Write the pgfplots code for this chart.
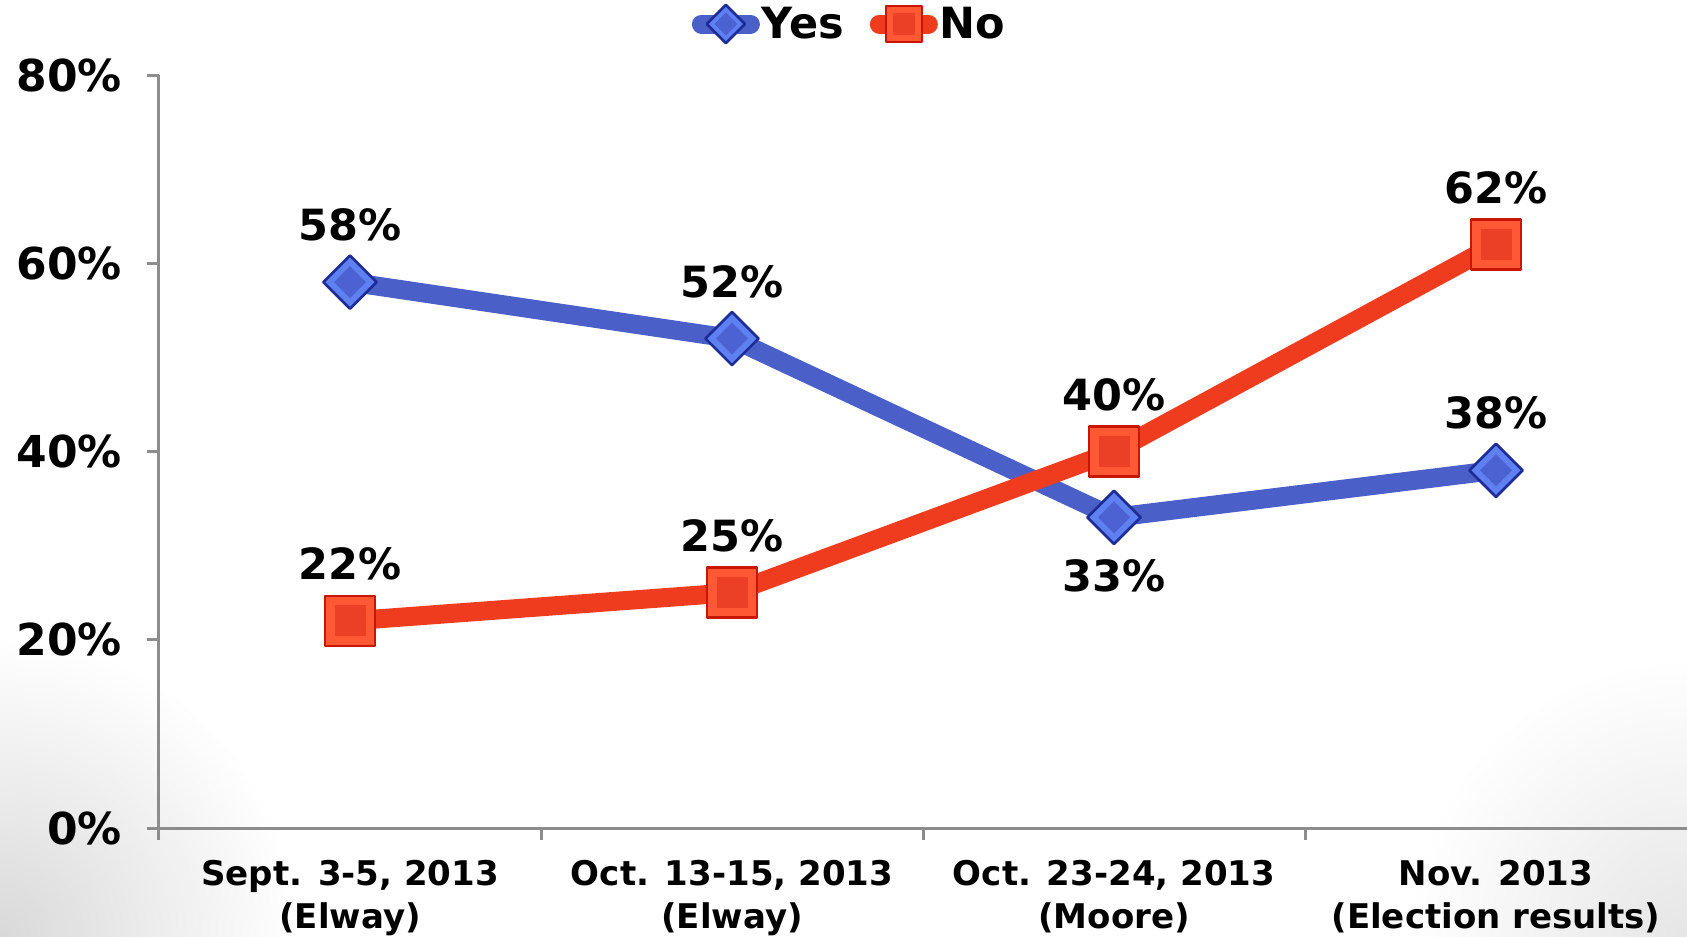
\documentclass[border=0pt]{standalone}
\usepackage{pgfplots}
\pgfplotsset{compat=1.18}
\usepackage{pgfplotstable}
\usepackage{fontspec}
\setmainfont{DejaVu Sans}
\definecolor{yesLine}{RGB}{74,96,200}
\definecolor{yesLight}{RGB}{95,128,240}
\definecolor{yesMid}{RGB}{76,98,210}
\definecolor{yesDark}{RGB}{30,45,150}
\definecolor{noLine}{RGB}{240,60,30}
\definecolor{noLight}{RGB}{255,88,52}
\definecolor{noMid}{RGB}{236,64,38}
\definecolor{noDark}{RGB}{200,22,0}
\definecolor{axgray}{RGB}{140,140,140}

\pgfdeclareplotmark{bevdiamond}{%
  \pgfsetlinewidth{1.3bp}%
  \pgfsetfillcolor{yesLight}\pgfsetstrokecolor{yesDark}%
  \pgfpathmoveto{\pgfqpoint{0pt}{\pgfplotmarksize}}%
  \pgfpathlineto{\pgfqpoint{\pgfplotmarksize}{0pt}}%
  \pgfpathlineto{\pgfqpoint{0pt}{-\pgfplotmarksize}}%
  \pgfpathlineto{\pgfqpoint{-\pgfplotmarksize}{0pt}}%
  \pgfpathclose
  \pgfusepath{fill,stroke}%
  \pgfsetfillcolor{yesMid}%
  \pgfpathmoveto{\pgfqpoint{0pt}{0.6\pgfplotmarksize}}%
  \pgfpathlineto{\pgfqpoint{0.6\pgfplotmarksize}{0pt}}%
  \pgfpathlineto{\pgfqpoint{0pt}{-0.6\pgfplotmarksize}}%
  \pgfpathlineto{\pgfqpoint{-0.6\pgfplotmarksize}{0pt}}%
  \pgfpathclose
  \pgfusepath{fill}%
}
\pgfdeclareplotmark{bevsquare}{%
  \pgfsetlinewidth{1.3bp}%
  \pgfsetfillcolor{noLight}\pgfsetstrokecolor{noDark}%
  \pgfpathrectanglecorners{\pgfqpoint{-\pgfplotmarksize}{-\pgfplotmarksize}}{\pgfqpoint{\pgfplotmarksize}{\pgfplotmarksize}}%
  \pgfusepath{fill,stroke}%
  \pgfsetfillcolor{noMid}%
  \pgfpathrectanglecorners{\pgfqpoint{-0.62\pgfplotmarksize}{-0.62\pgfplotmarksize}}{\pgfqpoint{0.62\pgfplotmarksize}{0.62\pgfplotmarksize}}%
  \pgfusepath{fill}%
}

\pgfplotstableread{
x y s
0 58 28.5
1 52 28.5
2 33 -29
3 38 28.5
}\yesdata
\pgfplotstableread{
x y s
0 22 28.5
1 25 28.5
2 40 28.5
3 62 28.5
}\nodata

\newcommand{\bigfont}{\bfseries\fontsize{22bp}{25bp}\selectfont}
\newcommand{\lblfont}{\bfseries\fontsize{21.5bp}{25bp}\selectfont}
\newcommand{\smallfont}{\bfseries\fontsize{17bp}{21.5bp}\selectfont}

\begin{document}
\begin{tikzpicture}
\fill[white] (-79.5bp,-54.5bp) rectangle (764bp,414bp);
\begin{scope}
\clip (-79.5bp,-54.5bp) rectangle (764bp,414bp);
\shade[inner color=black!15, outer color=white] (-79.5bp,-54.5bp) circle (150bp);
\shade[inner color=black!10, outer color=white] (764bp,-54.5bp) circle (140bp);
\end{scope}
\useasboundingbox (-79.5bp,-54.5bp) rectangle (764bp,414bp);
\begin{axis}[
  at={(0,0)}, anchor=south west, scale only axis,
  width=764bp, height=376.5bp,
  xmin=-0.5, xmax=3.5, ymin=0, ymax=80,
  /pgf/number format/assume math mode=true,
  axis x line=bottom, axis y line=left,
  axis line style={-, draw=axgray, line width=1.5bp},
  tick style={draw=axgray, line width=1.5bp},
  tick align=outside, major tick length=6bp,
  xtick={-0.5,0.5,1.5,2.5}, xticklabels={},
  extra x ticks={0,1,2,3},
  extra x tick labels={{Sept. 3-5, 2013\\(Elway)},{Oct. 13-15, 2013\\(Elway)},{Oct. 23-24, 2013\\(Moore)},{Nov. 2013\\(Election results)}},
  extra x tick style={major tick length=0pt},
  x tick label style={font=\smallfont, align=center, anchor=north, yshift=-12.8bp},
  ytick={0,20,40,60,80},
  yticklabels={0\%,20\%,40\%,60\%,80\%},
  y tick label style={font=\bigfont, anchor=east, xshift=-9bp},
  clip=false,
  legend entries={Yes,No},
  legend columns=2,
  legend style={at={(0.452,1)}, anchor=center, yshift=25.5bp, draw=none, fill=none, font=\lblfont,
    nodes={inner xsep=1bp},
    /tikz/every even column/.append style={column sep=12bp}, inner sep=0pt},
  legend image code/.code={\draw[mark repeat=2,mark phase=2,line cap=round,#1,every mark/.append style={scale=0.72}] plot coordinates {(4.75bp,0bp) (17bp,0bp) (29.25bp,0bp)};},
  nodes near coords={\pgfmathprintnumber{\pgfplotspointmeta}\%},
  every node near coord/.append style={font=\lblfont, text=black, anchor=center},
]
\addplot[yesLine, line width=9.5bp, line join=round, mark=bevdiamond, mark size=13.3bp,
  visualization depends on={\thisrow{s} \as \myshift},
  every node near coord/.append style={yshift=\myshift bp}]
  table[x=x,y=y]{\yesdata};
\addplot[noLine, line width=9.5bp, line join=round, mark=bevsquare, mark size=12.5bp,
  every node near coord/.append style={yshift=28.5bp}]
  table[x=x,y=y]{\nodata};
\end{axis}
\end{tikzpicture}
\end{document}
